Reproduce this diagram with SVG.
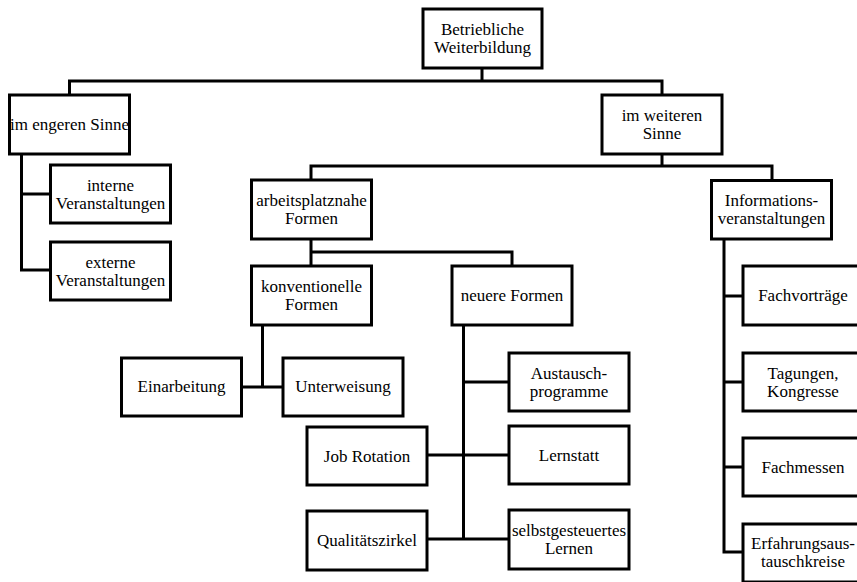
<svg xmlns="http://www.w3.org/2000/svg" width="857" height="582" viewBox="0 0 857 582">
  <style>
    .box rect { fill: #ffffff; stroke: #000000; stroke-width: 3; }
    .box text { font-size: 17px; fill: #000000; text-anchor: middle; }
    .links path { fill: none; stroke: #000000; stroke-width: 3; stroke-linejoin: miter; stroke-linecap: square; }
  </style>
  <rect width="857" height="582" fill="#ffffff"/>

  <!-- tree connectors -->
  <g class="links">
    <path d="M482 68 V81 M69.5 81 H662 M69.5 81 V95 M662 81 V95"/>
    <path d="M21.5 153 V270 M21.5 194 H50.5 M21.5 270 H50.5"/>
    <path d="M662 153 V166 M311 166 H772 M311 166 V180 M772 166 V180.5"/>
    <path d="M311 239 V266 M311 252 H512 M512 252 V266"/>
    <path d="M262.5 325 V387 M241 387 H283"/>
    <path d="M463.5 325 V539 M463.5 382 H509 M427 455 H509 M427 539 H509"/>
    <path d="M724 239 V552 M724 296 H743 M724 382 H743 M724 467 H743 M724 552 H743"/>
  </g>

  <!-- nodes -->
  <g font-family="Liberation Serif, Times New Roman, serif">
  <g id="betriebliche-weiterbildung" class="box">
    <rect x="423" y="9" width="119" height="59"/>
    <text x="482.5" y="35">Betriebliche</text>
    <text x="482.5" y="53">Weiterbildung</text>
  </g>
  <g id="im-engeren-sinne" class="box">
    <rect x="9.5" y="95" width="120" height="59"/>
    <text x="69.5" y="130">im engeren Sinne</text>
  </g>
  <g id="im-weiteren-sinne" class="box">
    <rect x="602" y="95" width="120" height="59"/>
    <text x="662" y="121">im weiteren</text>
    <text x="662" y="139">Sinne</text>
  </g>
  <g id="interne-veranstaltungen" class="box">
    <rect x="50.5" y="165" width="120" height="58"/>
    <text x="110.5" y="191">interne</text>
    <text x="110.5" y="209">Veranstaltungen</text>
  </g>
  <g id="externe-veranstaltungen" class="box">
    <rect x="50.5" y="242" width="120" height="58"/>
    <text x="110.5" y="268">externe</text>
    <text x="110.5" y="286">Veranstaltungen</text>
  </g>
  <g id="arbeitsplatznahe-formen" class="box">
    <rect x="251.5" y="180" width="120" height="59"/>
    <text x="311.5" y="206">arbeitsplatznahe</text>
    <text x="311.5" y="224">Formen</text>
  </g>
  <g id="informationsveranstaltungen" class="box">
    <rect x="711.5" y="180.5" width="120" height="58.5"/>
    <text x="771.5" y="206">Informations-</text>
    <text x="771.5" y="224">veranstaltungen</text>
  </g>
  <g id="konventionelle-formen" class="box">
    <rect x="251.5" y="266" width="120" height="59"/>
    <text x="311.5" y="292">konventionelle</text>
    <text x="311.5" y="310">Formen</text>
  </g>
  <g id="neuere-formen" class="box">
    <rect x="452" y="266" width="120" height="59"/>
    <text x="512" y="301">neuere Formen</text>
  </g>
  <g id="einarbeitung" class="box">
    <rect x="121.5" y="358" width="120" height="58"/>
    <text x="181.5" y="392">Einarbeitung</text>
  </g>
  <g id="unterweisung" class="box">
    <rect x="283" y="358" width="120" height="58"/>
    <text x="343" y="392">Unterweisung</text>
  </g>
  <g id="austauschprogramme" class="box">
    <rect x="509" y="353" width="120" height="58"/>
    <text x="569" y="379">Austausch-</text>
    <text x="569" y="397">programme</text>
  </g>
  <g id="job-rotation" class="box">
    <rect x="307" y="427" width="120" height="58"/>
    <text x="367" y="461.5">Job Rotation</text>
  </g>
  <g id="lernstatt" class="box">
    <rect x="509" y="426" width="120" height="58"/>
    <text x="569" y="460.5">Lernstatt</text>
  </g>
  <g id="qualitaetszirkel" class="box">
    <rect x="307" y="511" width="120" height="59"/>
    <text x="367" y="546">Qualitätszirkel</text>
  </g>
  <g id="selbstgesteuertes-lernen" class="box">
    <rect x="509" y="510" width="120" height="59"/>
    <text x="569" y="536">selbstgesteuertes</text>
    <text x="569" y="554">Lernen</text>
  </g>
  <g id="fachvortraege" class="box">
    <rect x="743" y="266" width="120" height="59"/>
    <text x="803" y="301">Fachvorträge</text>
  </g>
  <g id="tagungen-kongresse" class="box">
    <rect x="743" y="353" width="120" height="58"/>
    <text x="803" y="379">Tagungen,</text>
    <text x="803" y="397">Kongresse</text>
  </g>
  <g id="fachmessen" class="box">
    <rect x="743" y="438" width="120" height="58"/>
    <text x="803" y="472.5">Fachmessen</text>
  </g>
  <g id="erfahrungsaustauschkreise" class="box">
    <rect x="743" y="524" width="120" height="58"/>
    <text x="803" y="549">Erfahrungsaus-</text>
    <text x="803" y="567">tauschkreise</text>
  </g>
  </g>
</svg>
